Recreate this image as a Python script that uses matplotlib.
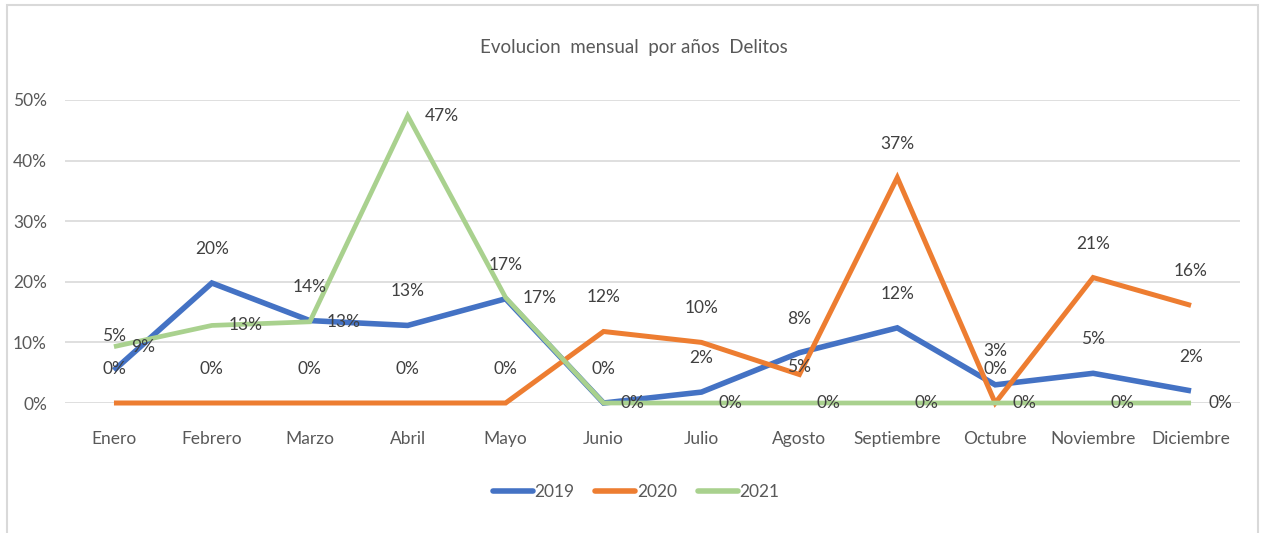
import matplotlib
matplotlib.use("Agg")
import matplotlib.pyplot as plt
from matplotlib.patches import Rectangle
from matplotlib.ticker import PercentFormatter

# ----------------------------------------------------
# Data (percent values)
# ----------------------------------------------------
months = ["Enero", "Febrero", "Marzo", "Abril", "Mayo", "Junio", "Julio",
          "Agosto", "Septiembre", "Octubre", "Noviembre", "Diciembre"]
years = ["2019", "2020", "2021"]
vals_2019 = [5.4, 19.8, 13.6, 12.8, 17.2, 0, 1.8, 8.3, 12.4, 3.0, 4.9, 2.0]
vals_2020 = [0, 0, 0, 0, 0, 11.8, 10.0, 4.7, 37.2, 0, 20.7, 16.1]
vals_2021 = [9.3, 12.8, 13.4, 47.4, 17.4, 0, 0, 0, 0, 0, 0, 0]
y_ticks = [0, 10, 20, 30, 40, 50]

colors = ["#4472C4", "#ED7D31", "#A9D18E"]
widths = [4.0, 3.6, 3.4]
TEXT = "#595959"
LABEL = "#404040"

plt.rcParams["font.family"] = ["Lato", "DejaVu Sans"]

fig = plt.figure(figsize=(12.61, 5.33), dpi=100)
# light frame around the whole chart
fig.patches.append(Rectangle((7 / 1261, -0.05), 1251 / 1261, 1 - 5 / 533 + 0.05,
                             transform=fig.transFigure, fill=False,
                             edgecolor="#d9d9d9", linewidth=1.5))

ax = fig.add_axes([65 / 1261, 1 - 403 / 533, 1175 / 1261, 303 / 533])
x = list(range(len(months)))

series = [vals_2019, vals_2020, vals_2021]
for vals, year, col, lw in zip(series, years, colors, widths):
    ax.plot(x, vals, color=col, linewidth=lw, label=year, clip_on=False,
            solid_capstyle="butt", solid_joinstyle="miter", zorder=3)

# data labels: 2019 and 2020 above the point, 2021 to the right
label_dy = {(1, 7): 8}  # orange Agosto label sits almost on the point
for s, vals in enumerate(series):
    for i, v in enumerate(vals):
        txt = f"{v:.0f}%"
        if s < 2:
            dy = label_dy.get((s, i), 34)
            ax.annotate(txt, (i, v), xytext=(0, dy), textcoords="offset pixels",
                        ha="center", va="center", fontsize=12.5, color=LABEL,
                        annotation_clip=False, zorder=4)
        else:
            ax.annotate(txt, (i, v), xytext=(17, 0), textcoords="offset pixels",
                        ha="left", va="center", fontsize=12.5, color=LABEL,
                        annotation_clip=False, zorder=4)

ax.set_xlim(-0.5, len(months) - 0.5)
ax.set_ylim(0, 50)
ax.set_yticks(y_ticks)
ax.yaxis.set_major_formatter(PercentFormatter(decimals=0))
ax.set_xticks(x)
ax.set_xticklabels(months)
ax.grid(axis="y", color="#d9d9d9", linewidth=1.2)
ax.set_axisbelow(True)
for sp in ax.spines.values():
    sp.set_visible(False)
ax.tick_params(axis="both", length=0, labelsize=12.5, colors=TEXT)
ax.tick_params(axis="x", pad=20)
ax.tick_params(axis="y", pad=13)

fig.text(634 / 1261, 1 - 48 / 533, "Evolucion  mensual  por años  Delitos",
         ha="center", va="center", fontsize=13.5, color=TEXT)

leg = fig.legend(loc="center", bbox_to_anchor=(636 / 1261, 1 - 492 / 533),
                 ncol=3, frameon=False, fontsize=12.5, handlelength=2.3,
                 handletextpad=0.1, columnspacing=1.2)
for t in leg.get_texts():
    t.set_color(TEXT)
for h in leg.get_lines():
    h.set_linewidth(4)
    h.set_solid_capstyle("round")

fig.savefig("out.png", dpi=100, facecolor="white")
